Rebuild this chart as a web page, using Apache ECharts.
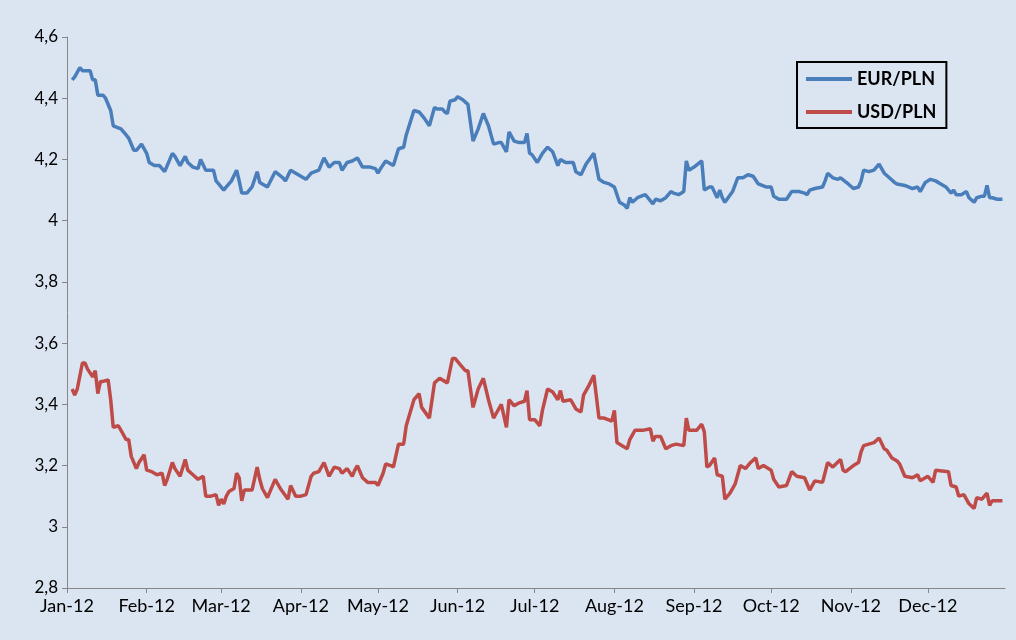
<!DOCTYPE html>
<html>
<head>
<meta charset="utf-8">
<script src="https://cdn.jsdelivr.net/npm/echarts@6/dist/echarts.min.js"></script>
<style>
  html, body { margin: 0; padding: 0; background: #dbe5f1; }
  #main { width: 1016px; height: 640px; }
</style>
</head>
<body>
<div id="main"></div>
<script>
// EUR/PLN and USD/PLN rates 2012
var year = '2012-';

var eurDates = ['01-03','01-04','01-06','01-07','01-10','01-11','01-12','01-13','01-15','01-16','01-18','01-19','01-22','01-24','01-25','01-27','01-28','01-30',
  '02-01','02-02','02-04','02-06','02-08','02-11','02-12','02-14','02-16','02-17','02-19','02-21','02-22','02-24','02-27','02-28','02-29',
  '03-02','03-03','03-05','03-07','03-08','03-09','03-11','03-13','03-15','03-16','03-17','03-19','03-22','03-25','03-26','03-28','03-31',
  '04-03','04-05','04-08','04-10','04-12','04-14','04-16','04-17','04-19','04-21','04-23','04-25','04-28','04-30',
  '05-01','05-02','05-04','05-06','05-07','05-09','05-11','05-12','05-15','05-17','05-19','05-21','05-23','05-24','05-26','05-27','05-28','05-29','05-31',
  '06-01','06-03','06-05','06-07','06-09','06-11','06-13','06-15','06-17','06-18','06-20','06-21','06-23','06-25','06-27','06-28','06-29','06-30',
  '07-02','07-04','07-06','07-08','07-10','07-11','07-13','07-16','07-17','07-19','07-21','07-24','07-26','07-28','07-30',
  '08-01','08-03','08-05','08-06','08-07','08-08','08-10','08-13','08-14','08-16','08-17','08-19','08-21','08-23','08-24','08-26','08-28','08-29','08-30',
  '09-01','09-04','09-05','09-07','09-08','09-10','09-11','09-12','09-13','09-16','09-18','09-20','09-22','09-24','09-26','09-29',
  '10-01','10-02','10-04','10-07','10-09','10-12','10-14','10-15','10-16','10-18','10-21','10-22','10-23','10-25','10-27','10-28','10-31',
  '11-02','11-04','11-05','11-06','11-08','11-10','11-12','11-14','11-16','11-18','11-19','11-22','11-25','11-27','11-28','11-30',
  '12-02','12-04','12-06','12-08','12-10','12-11','12-12','12-14','12-16','12-17','12-19','12-20','12-22','12-23','12-24','12-25','12-26','12-28','12-30'];
var eurRate = [4.46,4.47,4.50,4.49,4.49,4.46,4.46,4.41,4.41,4.40,4.36,4.31,4.30,4.28,4.27,4.23,4.23,4.25,
  4.22,4.19,4.18,4.18,4.16,4.22,4.21,4.18,4.21,4.19,4.175,4.17,4.20,4.165,4.165,4.13,4.12,
  4.10,4.11,4.13,4.165,4.13,4.09,4.09,4.11,4.16,4.125,4.12,4.11,4.16,4.14,4.13,4.165,4.15,
  4.135,4.155,4.165,4.205,4.175,4.19,4.19,4.165,4.19,4.195,4.205,4.175,4.175,4.17,
  4.155,4.17,4.195,4.185,4.18,4.235,4.24,4.28,4.36,4.355,4.335,4.31,4.37,4.365,4.365,4.355,4.35,4.39,4.395,
  4.405,4.395,4.38,4.26,4.30,4.35,4.31,4.25,4.255,4.255,4.225,4.29,4.26,4.255,4.255,4.285,4.22,4.215,
  4.19,4.22,4.24,4.225,4.18,4.20,4.19,4.19,4.16,4.15,4.185,4.22,4.135,4.125,4.12,
  4.11,4.06,4.05,4.04,4.075,4.06,4.075,4.085,4.075,4.055,4.07,4.065,4.075,4.095,4.09,4.085,4.095,4.195,4.165,
  4.175,4.195,4.10,4.11,4.11,4.075,4.10,4.075,4.06,4.095,4.14,4.14,4.15,4.145,4.12,4.11,
  4.11,4.08,4.07,4.07,4.095,4.095,4.09,4.085,4.10,4.105,4.11,4.13,4.155,4.14,4.135,4.14,4.12,
  4.105,4.11,4.13,4.165,4.16,4.165,4.185,4.155,4.14,4.125,4.12,4.115,4.105,4.11,4.095,4.125,
  4.135,4.13,4.12,4.11,4.09,4.10,4.085,4.085,4.095,4.075,4.06,4.075,4.08,4.08,4.115,4.075,4.075,4.07,4.07];

var usdDates = ['01-03','01-04','01-05','01-07','01-08','01-09','01-11','01-12','01-13','01-14','01-15','01-17','01-18','01-19','01-21','01-23','01-24','01-25','01-26','01-28','01-29','01-31',
  '02-01','02-03','02-05','02-07','02-08','02-09','02-11','02-12','02-14','02-16','02-17','02-19','02-21','02-23','02-24','02-26','02-28','02-29',
  '03-01','03-02','03-03','03-04','03-06','03-07','03-08','03-09','03-10','03-13','03-15','03-16','03-17','03-19','03-22','03-24','03-27','03-28','03-30',
  '04-01','04-03','04-05','04-06','04-08','04-10','04-12','04-14','04-16','04-17','04-19','04-21','04-22','04-23','04-25','04-27','04-30',
  '05-01','05-03','05-04','05-06','05-07','05-09','05-11','05-12','05-15','05-17','05-18','05-21','05-23','05-25','05-27','05-28','05-30','05-31',
  '06-02','06-04','06-05','06-07','06-09','06-11','06-13','06-15','06-16','06-18','06-20','06-21','06-23','06-25','06-27','06-28','06-29',
  '07-01','07-03','07-04','07-06','07-08','07-10','07-11','07-12','07-15','07-17','07-19','07-20','07-22','07-24','07-26','07-28','07-31',
  '08-01','08-02','08-04','08-06','08-07','08-09','08-12','08-15','08-16','08-17','08-19','08-21','08-23','08-25','08-28','08-29','08-30',
  '09-02','09-04','09-05','09-06','09-07','09-09','09-10','09-12','09-13','09-15','09-17','09-19','09-21','09-23','09-25','09-26','09-28',
  '10-01','10-02','10-04','10-07','10-09','10-11','10-14','10-16','10-18','10-21','10-23','10-25','10-28','10-29','10-30',
  '11-02','11-04','11-05','11-06','11-10','11-12','11-14','11-15','11-17','11-19','11-20','11-22','11-25','11-27','11-28',
  '12-01','12-03','12-04','12-09','12-10','12-12','12-13','12-15','12-17','12-19','12-20','12-22','12-24','12-25','12-26','12-30'];
var usdRate = [3.45,3.43,3.45,3.535,3.535,3.515,3.49,3.51,3.435,3.475,3.475,3.48,3.415,3.325,3.33,3.30,3.285,3.285,3.23,3.19,3.21,3.235,
  3.185,3.18,3.17,3.175,3.135,3.155,3.21,3.19,3.165,3.22,3.185,3.17,3.155,3.165,3.10,3.10,3.105,3.07,
  3.09,3.075,3.10,3.115,3.125,3.175,3.16,3.085,3.12,3.12,3.195,3.155,3.125,3.095,3.155,3.125,3.09,3.135,3.10,
  3.10,3.105,3.165,3.175,3.18,3.21,3.165,3.195,3.19,3.175,3.19,3.165,3.185,3.20,3.16,3.145,3.145,
  3.135,3.175,3.205,3.20,3.195,3.27,3.27,3.33,3.415,3.435,3.39,3.355,3.47,3.485,3.475,3.47,3.55,3.55,
  3.53,3.51,3.51,3.39,3.45,3.485,3.415,3.355,3.37,3.40,3.325,3.415,3.395,3.405,3.41,3.445,3.35,
  3.35,3.33,3.38,3.45,3.44,3.415,3.445,3.41,3.415,3.385,3.375,3.43,3.46,3.495,3.355,3.355,3.345,
  3.38,3.275,3.265,3.255,3.285,3.315,3.315,3.32,3.28,3.295,3.295,3.255,3.265,3.27,3.265,3.355,3.315,
  3.315,3.335,3.31,3.195,3.20,3.225,3.17,3.165,3.09,3.11,3.14,3.20,3.19,3.21,3.225,3.19,3.20,
  3.185,3.155,3.13,3.135,3.18,3.165,3.16,3.12,3.15,3.145,3.21,3.195,3.22,3.185,3.18,
  3.20,3.21,3.245,3.265,3.275,3.29,3.255,3.25,3.225,3.215,3.205,3.165,3.16,3.17,3.15,
  3.165,3.145,3.185,3.18,3.135,3.13,3.10,3.105,3.075,3.06,3.095,3.09,3.11,3.07,3.085,3.085];

var yTicks = { min: 2.8, max: 4.6, step: 0.2 };

function pairs(dates, values) {
  return dates.map(function (d, i) { return [year + d, values[i]]; });
}

var chart = echarts.init(document.getElementById('main'));
var font = 'Lato, "Open Sans", sans-serif';

var option = {
  backgroundColor: '#dbe5f1',
  animation: false,
  grid: { left: 67, right: 11, top: 37, bottom: 52 },
  legend: {
    orient: 'vertical',
    left: 797,
    top: 62,
    padding: [8, 10, 7, 9],
    itemGap: 15,
    itemWidth: 46,
    itemHeight: 4,
    icon: 'rect',
    borderColor: '#000',
    borderWidth: 2,
    textStyle: { fontFamily: font, fontSize: 18, fontWeight: 'bold', color: '#000' },
    data: ['EUR/PLN', 'USD/PLN']
  },
  xAxis: {
    type: 'time',
    min: '2012-01-01',
    max: '2012-12-31',
    minInterval: 28 * 864e5,
    maxInterval: 31 * 864e5,
    splitLine: { show: false },
    axisLine: { lineStyle: { color: '#868686', width: 1 } },
    axisTick: { show: true, length: 5, lineStyle: { color: '#868686' } },
    axisLabel: {
      formatter: '{MMM}-{yy}',
      fontFamily: font, fontSize: 18, color: '#000', margin: 9,
      showMaxLabel: false
    }
  },
  yAxis: {
    type: 'value',
    min: yTicks.min,
    max: yTicks.max,
    interval: yTicks.step,
    splitLine: { show: false },
    axisLine: { show: true, lineStyle: { color: '#868686', width: 1 } },
    axisTick: { show: true, length: 5, lineStyle: { color: '#868686' } },
    axisLabel: {
      fontFamily: font, fontSize: 17, color: '#000', margin: 9,
      formatter: function (v) { return String(Math.round(v * 10) / 10).replace('.', ','); }
    }
  },
  series: [
    {
      name: 'EUR/PLN', type: 'line', showSymbol: false, symbol: 'none',
      color: '#4a7ebb', lineStyle: { width: 3.5, color: '#4a7ebb' },
      data: pairs(eurDates, eurRate)
    },
    {
      name: 'USD/PLN', type: 'line', showSymbol: false, symbol: 'none',
      color: '#be4b48', lineStyle: { width: 3.5, color: '#be4b48' },
      data: pairs(usdDates, usdRate)
    }
  ]
};

chart.setOption(option);
</script>
</body>
</html>
